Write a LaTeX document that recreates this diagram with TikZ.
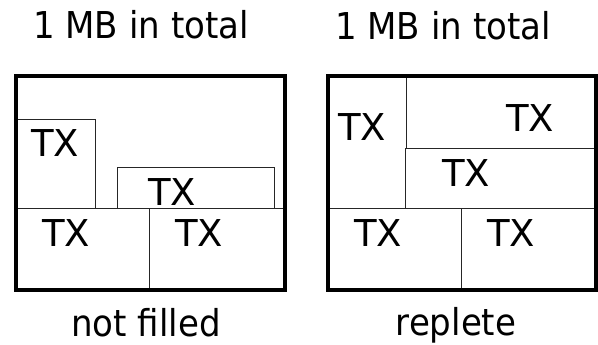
\documentclass[tikz,border=0pt]{standalone}
\usepackage{fontspec}
\newfontfamily\handfont{DejaVu Sans}
\newfontfamily\handfontnarrow[FakeStretch=0.92]{DejaVu Sans}
\tikzset{
  frame/.style={line width=4.3pt, line join=miter},
  cell/.style={line width=0.9pt, black!85},
  tx/.style={anchor=base, inner sep=0pt, font=\handfont\fontsize{37}{40}\selectfont},
  caption/.style={anchor=base, inner sep=0pt, font=\handfontnarrow\fontsize{37}{40}\selectfont},
}
\begin{document}
\begin{tikzpicture}[x=1pt,y=-1pt]
\useasboundingbox (0,0) rectangle (598,345);

% ---- left memory block: partly used ----
\draw[cell] (16,119.3) rectangle (95.7,208.3);
\draw[cell] (117.3,167.7) rectangle (274,208.3);
\draw[cell] (16,208.3) -- (284.7,208.3);
\draw[cell] (149.3,208.3) -- (149.3,290);
\draw[frame] (16,76) rectangle (284.7,290);

\node[tx] (l1) at (55,157) {TX};
\node[tx] (l2) at (172,205) {TX};
\node[tx] (l3) at (66,246) {TX};
\node[tx] (l4) at (199,246) {TX};

% ---- right memory block: fully used ----
\draw[cell] (406.7,76) -- (406.7,148.3);
\draw[cell] (405.3,148.3) -- (596,148.3);
\draw[cell] (405.3,148.3) -- (405.3,208.3);
\draw[cell] (328,208.3) -- (596,208.3);
\draw[cell] (461.7,208.3) -- (461.7,290);
\draw[frame] (328,76) rectangle (596,290);

\node[tx] (r1) at (362,140) {TX};
\node[tx] (r2) at (530,131.5) {TX};
\node[tx] (r3) at (466,186.5) {TX};
\node[tx] (r4) at (378,246) {TX};
\node[tx] (r5) at (511,246) {TX};

% ---- captions ----
\node[caption] (ltitle) at (141,39) {1 MB in total};
\node[caption] (rtitle) at (443,40) {1 MB in total};
\node[caption] (lnote) at (146,336) {not filled};
\node[caption] (rnote) at (456,335.5) {replete};
\end{tikzpicture}
\end{document}
